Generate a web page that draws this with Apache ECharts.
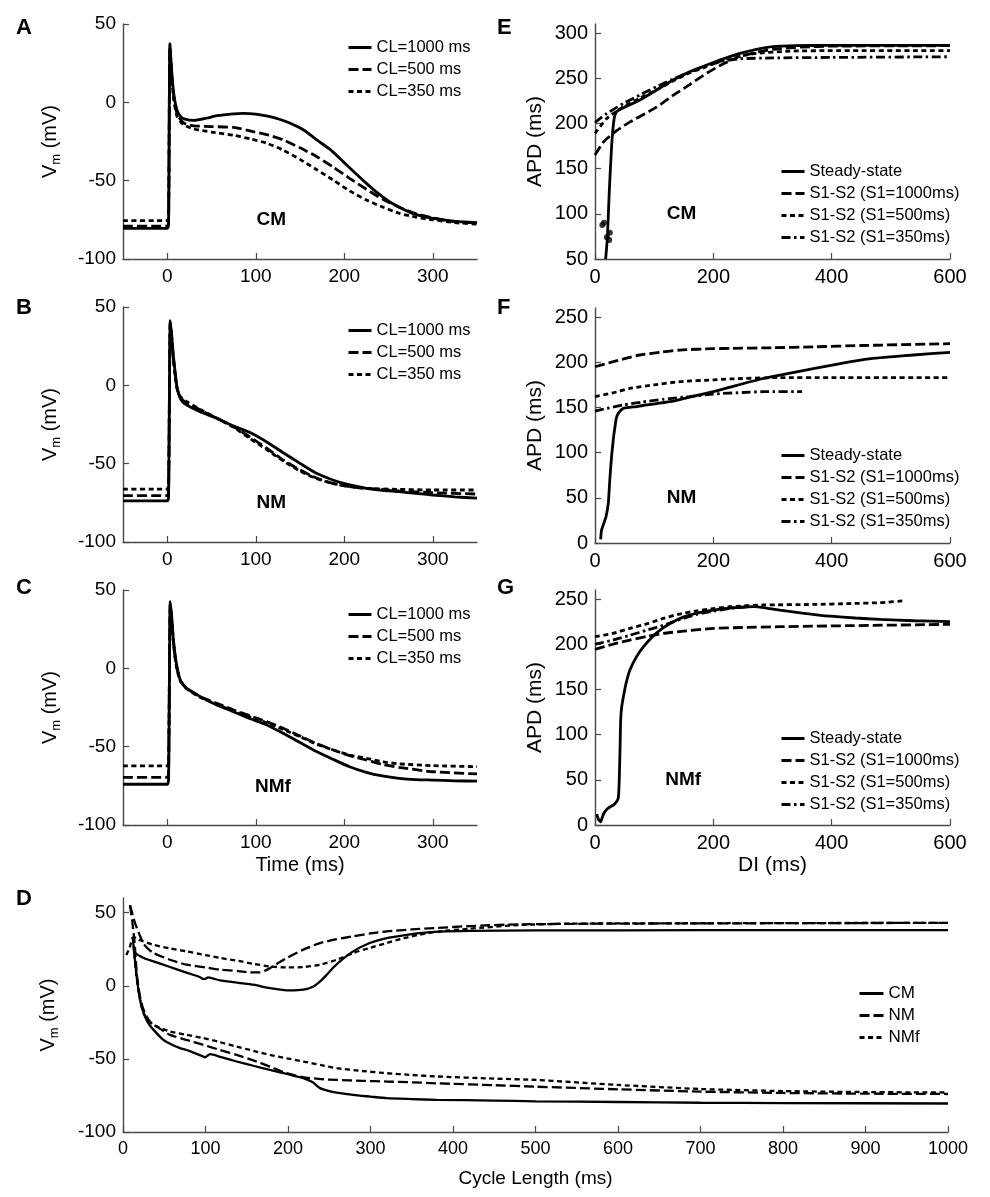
<!DOCTYPE html>
<html><head><meta charset="utf-8">
<script src="https://cdn.jsdelivr.net/npm/echarts@6/dist/echarts.min.js"></script>
<style>html,body{margin:0;padding:0;background:#fff}#c{width:990px;height:1197px}</style>
</head><body><div id="c"></div>
<script>
// ---------- DATA ----------
const clNames = ['CL=1000 ms', 'CL=500 ms', 'CL=350 ms'];
const s1Names = ['Steady-state', 'S1-S2 (S1=1000ms)', 'S1-S2 (S1=500ms)', 'S1-S2 (S1=350ms)'];
const dNames = ['CM', 'NM', 'NMf'];
const vTicks = [-100, -50, 0, 50];
const timeTicks = [0, 100, 200, 300];
const apdTicksE = [50, 100, 150, 200, 250, 300];
const apdTicksFG = [0, 50, 100, 150, 200, 250];
const diTicks = [0, 200, 400, 600];
const clTicks = [0, 100, 200, 300, 400, 500, 600, 700, 800, 900, 1000];
const tagTexts = ['CM', 'NM', 'NMf', 'CM', 'NM', 'NMf'];

// Panel A (CM)
const A_CL1000 = [[-50,-80.5],[0,-80.5],[1.5,-78],[3,37.5],[5,20],[7.5,5],[11,-5],[15,-9],[19,-10.5],[30,-11.5],[45,-10],[56,-8.5],[75,-7.3],[86,-7],[100,-7.5],[112,-8.7],[125,-10.5],[139,-13.4],[155,-18],[169,-24],[185,-30.5],[199,-38],[212,-45],[225,-51.7],[238,-58],[251,-63.4],[264,-67.5],[277,-70.9],[290,-73],[300,-74],[326,-76],[350,-76.8]];
const A_CL500 = [[-50,-79],[0,-79],[1.5,-76],[3,35],[5,18],[7.5,3],[11,-7],[15,-11],[19,-13.4],[30,-15],[50,-15.5],[75,-16],[97,-18.7],[115,-21],[131,-24],[150,-29],[169,-34.7],[188,-41.5],[206,-48.5],[225,-55.5],[244,-62],[262,-67],[281,-71],[300,-73.8],[319,-75.7],[335,-76.5],[350,-77]];
const A_CL350 = [[-50,-75.5],[0,-75.5],[1.5,-73],[3,34],[5,16],[7.5,1],[11,-9],[15,-12.5],[19,-14.5],[30,-17],[50,-19],[75,-21],[95,-23.5],[112,-26],[131,-30.5],[150,-36.4],[169,-43],[187.5,-49.6],[206,-56.5],[225,-62.3],[244,-67],[262.5,-70.9],[281,-73.3],[300,-75],[325,-76.8],[350,-77.7]];
// Panel B (NM)
const B_CL1000 = [[-50,-73.8],[0,-73.8],[1.5,-71],[3.4,41.3],[5,32],[7,18.3],[9,8],[11,-1],[14.6,-8.3],[18,-11],[22,-12.6],[30,-15],[37,-16.8],[56,-21],[75,-26],[93,-30],[112,-36],[131,-43],[150,-49.8],[168,-56],[187,-60.4],[206,-63.6],[225,-65.7],[243,-67],[262,-67.9],[281,-69],[300,-70],[325,-71.2],[350,-72]];
const B_CL500 = [[-50,-70.4],[0,-70.4],[1.5,-68],[3.4,40],[5,31],[7,17],[9,7],[11,-1.5],[14.6,-7.5],[22,-11.5],[30,-13.5],[37,-15.7],[56,-21],[75,-26.4],[93,-32.8],[112,-40],[131,-47.7],[150,-54],[168,-59],[187,-62.6],[206,-64.7],[225,-65.7],[262,-67.4],[300,-68.5],[350,-69.4]];
const B_CL350 = [[-50,-66.2],[0,-66.2],[1.5,-64],[3.4,39],[5,30],[7,16],[9,6],[11,-2],[14.6,-7],[22,-10.4],[30,-13],[37,-15.3],[56,-21],[75,-26.8],[93,-33.8],[112,-40.9],[131,-48.3],[150,-54.7],[168,-59.4],[187,-62.6],[206,-64.7],[225,-65.7],[262,-66.4],[300,-66.8],[350,-66.8]];
// Panel C (NMf)
const C_CL1000 = [[-50,-74],[0,-74],[1.5,-71],[3.4,42.5],[5,33],[7,18],[9,8],[11,1],[14.6,-7.4],[18,-10.5],[22,-12.8],[30,-15.5],[37,-18],[56,-23.4],[75,-27.7],[93,-32],[112,-36],[131,-41.5],[150,-47.4],[168,-53],[187,-58],[206,-62.8],[225,-66.4],[243,-68.7],[262,-70.2],[281,-71],[300,-71.3],[325,-71.8],[350,-72]];
const C_CL500 = [[-50,-69.6],[0,-69.6],[1.5,-67],[3.4,41],[5,32],[7,17],[9,7],[11,0],[14.6,-7.5],[22,-12.8],[37,-18],[56,-22.3],[75,-26.6],[93,-30.2],[112,-34],[131,-38.3],[150,-43.2],[168,-47.9],[187,-52],[206,-55.7],[225,-58.5],[243,-61.3],[262,-63.2],[300,-66],[350,-67.4]];
const C_CL350 = [[-50,-62.3],[0,-62.3],[1.5,-60],[3.4,40],[5,31],[7,16],[9,6],[11,-0.5],[14.6,-8],[22,-13],[37,-18.5],[56,-23],[75,-27.2],[93,-30.9],[112,-34.7],[131,-39],[150,-43.6],[168,-48.3],[187,-52],[206,-55.3],[225,-57.4],[243,-59.6],[262,-61],[300,-62.1],[350,-62.8]];
// Panel E (CM restitution)
const E_SS = [[18,50],[21,74.7],[24,122.6],[28,174],[32,203.8],[36.6,213],[50,218],[76,226],[104,237],[132,248],[160,257],[189,264.6],[217,271.5],[245,277.5],[273,282],[301,285],[340,286],[386,286.3],[600,286.3]];
const E_SSdots = [[12.4,87.6],[15.2,90],[20,74],[24,71],[25,79]];
const E_S1000 = [[0,165],[15,180],[36.6,192],[60,202],[104,218],[132,231],[160,243],[190,256],[217,266],[245,274],[275,279],[301,282],[350,284.5],[400,285.5],[600,286]];
const E_S500 = [[0,189],[20,205.6],[48,218.5],[76,228],[104,237],[132,247],[160.6,256],[189,263],[217,270],[245,274.5],[273,277.5],[330,280],[400,280.5],[600,280.5]];
const E_S350 = [[0,201],[20,211],[48,222],[76,231.5],[104,240.6],[132,249],[160.6,257],[189,264],[217,269],[245,271.5],[301,272.5],[400,273],[600,273.8]];
// Panel F (NM restitution)
const F_SS = [[9.6,4],[11,14],[15,22],[18.6,29],[22.5,44],[25,70],[28,95.5],[31,115],[33.8,128.7],[36,138],[39.4,143.4],[48,149],[70,151],[87,152.7],[126.8,156.3],[160,161.5],[200,167.4],[240,174.5],[284.5,182],[330,188],[369,193],[410,198],[453.5,203],[500,206],[538,208],[600,211]];
const F_S1000 = [[0,195],[31,200.6],[50,204],[76,208],[110,211],[143.7,213.5],[200,215],[228,215.3],[300,216],[369,217],[450,218.5],[600,220.5]];
const F_S500 = [[0,162],[30,166],[59,171],[100,175],[143.7,178.5],[200,180.5],[228,181.5],[312.7,183],[400,183],[600,183]];
const F_S350 = [[0,146],[20,149],[48,152.7],[80,156],[115.5,159],[160,162],[200,164.8],[250,166.5],[284.5,167.4],[350,167.4]];
// Panel G (NMf restitution)
const G_SS = [[3,12],[6,6],[9.5,3.5],[13,10],[17,15],[24,19.5],[31,22],[36,25.5],[39.4,30],[41,50],[42.5,90],[43.4,116],[45,130],[48,142],[53,158],[59,171.5],[70,186],[81.7,197],[95,207],[110,215.7],[130,224],[149,230],[170,234],[189,236.5],[215,239],[239,240.4],[268,241.5],[290,240],[312.7,237.8],[350,234.5],[397,231],[440,229],[482,227.5],[540,226],[600,225]];
const G_S1000 = [[0,194.3],[30,200],[59,204.6],[90,209],[115.5,212],[150,214.5],[200,217.5],[250,218.5],[312.7,219.4],[425,220.5],[600,222]];
const G_S500 = [[0,208.3],[30,212],[59,217.5],[90,223],[115.5,228.6],[140,233],[172,237],[200,239.5],[228,241.5],[284.5,243.4],[369,244],[430,245],[482,246],[521,248]];
const G_S350 = [[0,200],[30,204.5],[59,210],[90,216],[115.5,221],[140,226.5],[172,233],[200,236.5],[228,239.7],[262,241.5]];
// Panel D (Vm extremes vs cycle length)
const D_CM_up = [[13,23],[20,20.5],[25,19],[36.8,16.7],[57,12.8],[77,9],[93,6],[97,4.6],[100,4.8],[103,5.7],[110,4.8],[117.6,3.7],[140,2],[158,0.7],[178,-1.6],[202,-3.2],[218.6,-2.7],[230.7,-0.5],[240,3.5],[246.9,7.5],[255,12.5],[263,16.7],[279,23.5],[299,29.2],[319.6,32.6],[340,34.5],[360,36],[384,37],[420,37.5],[500,37.8],[700,38],[1000,38]];
const D_NM_up = [[8.5,55],[11,50],[14.5,43],[20,35],[24.6,29],[30,25.5],[36.8,22.4],[57,17.8],[77,14.4],[100,12.5],[117.6,11],[140,10],[154,9.1],[166,9.1],[178,12],[188,15.5],[198.4,19],[218.6,24.7],[238.8,29.2],[259,31.8],[279,33.8],[300,35.8],[319.6,37.2],[350,38.5],[380,39.5],[420,40.8],[480,42],[600,42.5],[1000,43]];
const D_NMf_up = [[4,21],[8,26],[12,33],[14,33],[18,31.5],[24.6,30.4],[36.8,28],[57,25.5],[77,23.5],[100,21],[117.6,19],[140,17],[158,15],[178,13.2],[198.4,12.5],[218.6,12.8],[238.8,14.4],[259,17.8],[279,22.4],[300,26],[319.6,29.2],[340,32.5],[360,35],[384,37.2],[420,39],[480,41.5],[550,42.5],[1000,43]];
const D_CM_lo = [[12,32],[14,20],[16.6,6.4],[18.5,-2],[20.6,-9.6],[23,-15],[26.7,-21],[30,-25],[36.8,-30],[48.9,-37],[60,-40.5],[69,-42.6],[80,-44.5],[89,-46.6],[96,-48],[99.4,-49],[102,-48],[105.5,-46.8],[120,-49],[137.8,-51.8],[158,-54.7],[178,-57.5],[200,-60.5],[218.6,-63.2],[230,-66],[238.8,-70],[250,-72],[259,-73],[279,-74.6],[300,-75.8],[319.6,-76.9],[350,-77.5],[380,-78],[450,-78.5],[500,-79],[600,-79.5],[700,-80],[800,-80.2],[1000,-80.5]];
const D_NM_lo = [[8.5,55],[11,45],[14,30],[16.6,8.7],[18.5,0],[20.6,-7.3],[24,-15],[28.7,-21],[34,-25.5],[40.8,-27.9],[57,-33.6],[77,-37],[97.4,-40.4],[117,-43.8],[137.8,-47.3],[158,-51],[178,-55.3],[198.4,-59.8],[218.6,-62.6],[240,-63.8],[259,-64.4],[290,-65],[319.6,-65.5],[350,-66],[380,-66.7],[450,-68],[500,-69],[600,-70.8],[700,-72.4],[800,-73.3],[900,-73.8],[1000,-74]];
const D_NMf_lo = [[12,33],[14,20],[16,8],[18.6,-2.7],[21,-10],[24.6,-18.7],[30,-23],[36.8,-26.7],[57,-31.3],[77,-33.5],[97.4,-35.8],[117,-38.5],[137.8,-41.6],[158,-44.5],[178,-47.3],[198.4,-49.6],[218.6,-51.8],[240,-54.2],[259,-56.4],[290,-58.3],[319.6,-59.8],[350,-61],[380,-62],[450,-63.5],[500,-64.4],[600,-67.8],[700,-70.6],[800,-72],[900,-72.7],[1000,-73]];
// text tag positions (data coords) for panels A,B,C,E,F,G
const tagPos = [[118,-75],[118,-75],[120,-76],[147,100],[147,50],[150,49]];

// ---------- STYLE / LAYOUT ----------
const FONT = 'Liberation Sans, Arial, sans-serif';
const AX = '#4a4a4a';
const LW = 2.8;
const DASH = { solid: 'solid', long: [10, 4], short: [5, 3.5], dashdot: [9, 3.5, 2.5, 3.5] };

const grids = [
  { left: 123, top: 24, width: 354, height: 235 },   // 0 A
  { left: 123, top: 307, width: 354, height: 235 },  // 1 B
  { left: 123, top: 590, width: 354, height: 235 },  // 2 C
  { left: 595, top: 24, width: 355, height: 235 },   // 3 E
  { left: 595, top: 308, width: 355, height: 235 },  // 4 F
  { left: 595, top: 590, width: 355, height: 235 },  // 5 G
  { left: 123, top: 898, width: 825, height: 234 }   // 6 D
];

const vmName = '{v|V}{s|m}{v| (mV)}';
const vmRich = (fs) => ({ v: { fontSize: fs, fontFamily: FONT, color: '#000', lineHeight: 26 },
  s: { fontSize: Math.round(fs * 0.65), fontFamily: FONT, color: '#000', lineHeight: 12, verticalAlign: 'bottom' } });
const plain = v => String(v);

function xAx(gi, min, max, ticks, fs, name, nameGap) {
  return { type: 'value', gridIndex: gi, min, max, name: name || '', nameLocation: 'middle', nameGap: nameGap || 0,
    nameTextStyle: { fontSize: fs + 1, fontFamily: FONT, color: '#000' },
    axisLine: { show: true, onZero: false, lineStyle: { color: AX, width: 1.4 } },
    axisTick: { show: true, inside: true, length: 6, lineStyle: { color: AX, width: 1.2 }, customValues: ticks },
    axisLabel: { show: true, color: '#000', fontSize: fs, fontFamily: FONT, margin: 8, customValues: ticks, formatter: plain },
    splitLine: { show: false } };
}
function yAx(gi, min, max, ticks, fs, name, rich, nameGap) {
  return { type: 'value', gridIndex: gi, min, max, name, nameLocation: 'middle', nameGap,
    nameTextStyle: { fontSize: fs + 1, fontFamily: FONT, color: '#000', rich: rich || undefined },
    axisLine: { show: true, onZero: false, lineStyle: { color: AX, width: 1.4 } },
    axisTick: { show: true, inside: true, length: 6, lineStyle: { color: AX, width: 1.2 }, customValues: ticks },
    axisLabel: { show: true, color: '#000', fontSize: fs, fontFamily: FONT, margin: 7, customValues: ticks, formatter: plain },
    splitLine: { show: false } };
}

const xAxes = [
  xAx(0, -50, 350, timeTicks, 19, '', 0),
  xAx(1, -50, 350, timeTicks, 19, '', 0),
  xAx(2, -50, 350, timeTicks, 19, 'Time (ms)', 30),
  xAx(3, 0, 600, diTicks, 20, '', 0),
  xAx(4, 0, 600, diTicks, 20, '', 0),
  xAx(5, 0, 600, diTicks, 20, 'DI (ms)', 30),
  xAx(6, 0, 1000, clTicks, 18, 'Cycle Length (ms)', 37)
];
const yAxes = [
  yAx(0, -100, 50, vTicks, 19, vmName, vmRich(20), 60),
  yAx(1, -100, 50, vTicks, 19, vmName, vmRich(20), 60),
  yAx(2, -100, 50, vTicks, 19, vmName, vmRich(20), 60),
  yAx(3, 50, 310, apdTicksE, 20, 'APD (ms)', null, 49),
  yAx(4, 0, 260, apdTicksFG, 20, 'APD (ms)', null, 49),
  yAx(5, 0, 260, apdTicksFG, 20, 'APD (ms)', null, 49),
  yAx(6, -100, 60, vTicks, 19, vmName, vmRich(20), 62)
];

function ln(name, data, dash, gi, w) {
  return { type: 'line', name, data, xAxisIndex: gi, yAxisIndex: gi, symbol: 'none', showSymbol: false,
    smooth: 0.2, silent: true, animation: false, clip: true,
    itemStyle: { color: 'rgba(0,0,0,0)', borderWidth: 0 },
    lineStyle: { color: '#000', width: w || LW, type: dash, cap: 'butt' } };
}
function tag(text, pos, gi) {
  return { type: 'scatter', name: 'tag' + gi, data: [pos], xAxisIndex: gi, yAxisIndex: gi, symbolSize: 1,
    itemStyle: { color: 'rgba(0,0,0,0)' }, silent: true, animation: false,
    label: { show: true, position: [0, 0], align: 'center', verticalAlign: 'middle', formatter: text,
      color: '#000', opacity: 1, fontSize: 19, fontWeight: 'bold', fontFamily: FONT } };
}

const series = [
  ln(clNames[0], A_CL1000, DASH.solid, 0), ln(clNames[1], A_CL500, DASH.long, 0), ln(clNames[2], A_CL350, DASH.short, 0),
  ln(clNames[0], B_CL1000, DASH.solid, 1), ln(clNames[1], B_CL500, DASH.long, 1), ln(clNames[2], B_CL350, DASH.short, 1),
  ln(clNames[0], C_CL1000, DASH.solid, 2), ln(clNames[1], C_CL500, DASH.long, 2), ln(clNames[2], C_CL350, DASH.short, 2),
  ln(s1Names[0], E_SS, DASH.solid, 3), ln(s1Names[1], E_S1000, DASH.long, 3), ln(s1Names[2], E_S500, DASH.short, 3), ln(s1Names[3], E_S350, DASH.dashdot, 3),
  { type: 'scatter', name: 'ssdots', data: E_SSdots, xAxisIndex: 3, yAxisIndex: 3, symbolSize: 6, itemStyle: { color: '#000' }, silent: true, animation: false },
  ln(s1Names[0], F_SS, DASH.solid, 4), ln(s1Names[1], F_S1000, DASH.long, 4), ln(s1Names[2], F_S500, DASH.short, 4), ln(s1Names[3], F_S350, DASH.dashdot, 4),
  ln(s1Names[0], G_SS, DASH.solid, 5), ln(s1Names[1], G_S1000, DASH.long, 5), ln(s1Names[2], G_S500, DASH.short, 5), ln(s1Names[3], G_S350, DASH.dashdot, 5),
  ln(dNames[0], D_CM_up, DASH.solid, 6, 2.3), ln(dNames[1], D_NM_up, DASH.long, 6, 2.3), ln(dNames[2], D_NMf_up, DASH.short, 6, 2.3),
  ln(dNames[0], D_CM_lo, DASH.solid, 6, 2.3), ln(dNames[1], D_NM_lo, DASH.long, 6, 2.3), ln(dNames[2], D_NMf_lo, DASH.short, 6, 2.3)
];
[0, 1, 2, 3, 4, 5].forEach(i => series.push(tag(tagTexts[i], tagPos[i], i)));

function lg(names, left, top, w, fs) {
  return { show: true, data: names, orient: 'vertical', left, top, itemWidth: w, itemHeight: 14, itemGap: 5,
    selectedMode: false, padding: 0,
    itemStyle: { color: 'rgba(0,0,0,0)', borderWidth: 0, opacity: 0 },
    lineStyle: { width: 3, color: '#000', type: 'inherit' },
    textStyle: { fontSize: fs || 16.5, fontFamily: FONT, color: '#000' } };
}
const legends = [
  lg(clNames, 347, 39, 23), lg(clNames, 347, 322, 23), lg(clNames, 347, 606, 23),
  lg(s1Names, 780, 163, 23), lg(s1Names, 780, 447, 23), lg(s1Names, 780, 730, 23),
  lg(dNames, 858, 985, 24, 17)
];

const letters = [['A', 16, 17], ['B', 16, 297], ['C', 16, 577], ['D', 16, 888], ['E', 497, 17], ['F', 497, 297], ['G', 497, 577]];
const graphic = letters.map(([t, x, y]) => ({ type: 'text', left: x, top: y, silent: true,
  style: { text: t, fill: '#000', font: 'bold 22px ' + FONT } }));

const chart = echarts.init(document.getElementById('c'), null, { renderer: 'canvas' });
chart.setOption({ backgroundColor: '#fff', animation: false, grid: grids, xAxis: xAxes, yAxis: yAxes,
  series, legend: legends, graphic, tooltip: { show: false } });
</script></body></html>
